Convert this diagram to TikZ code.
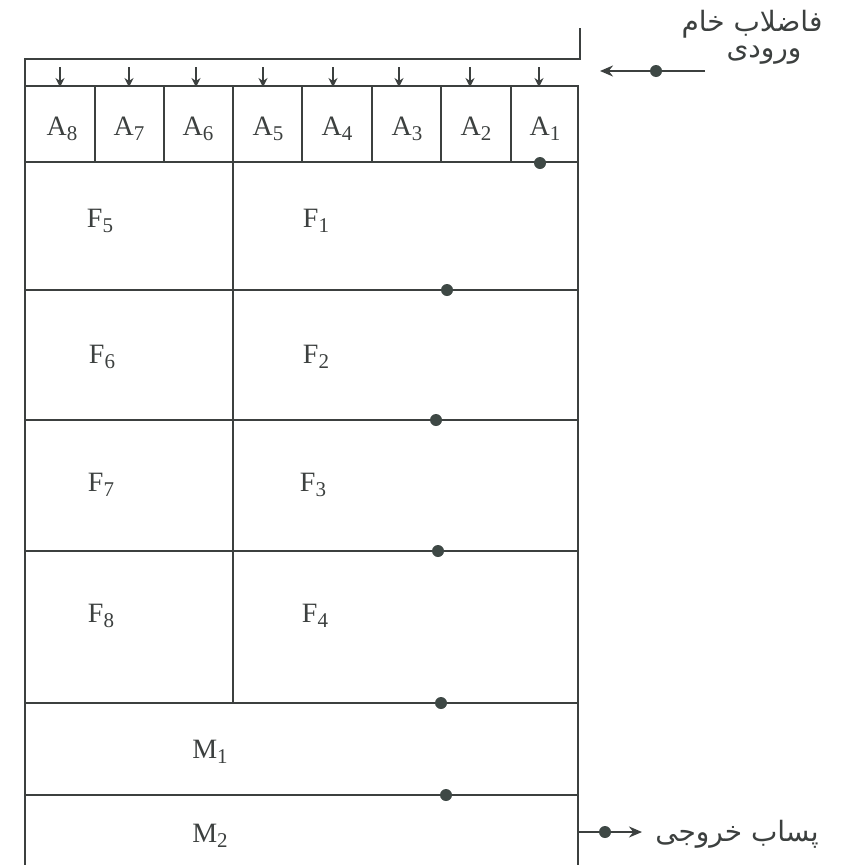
\documentclass[tikz,border=0pt]{standalone}
\usepackage{fontspec}
\setmainfont{Liberation Serif}
\newfontfamily\arabicfont[Script=Arabic]{DejaVu Sans}
\TeXXeTstate=1
\usetikzlibrary{arrows.meta}
\definecolor{ink}{HTML}{3C403F}
\definecolor{dotc}{HTML}{3E4845}
\newcommand\cellname[2]{#1\raisebox{-0.2em}{\fontsize{21}{24}\selectfont #2}}
\begin{document}
\begin{tikzpicture}[x=1pt,y=-1pt,
  wall/.style={draw=ink,line width=2.2pt},
  thin/.style={draw=ink,line width=1.6pt},
  dotmark/.style={circle,fill=dotc,inner sep=0pt,minimum size=12pt},
  lbl/.style={font=\fontsize{28}{32}\selectfont,text=ink,inner sep=0pt,anchor=base},
  fa/.style={font=\arabicfont\fontsize{28}{32}\selectfont,text=ink,inner sep=0pt},
  feed/.style={draw=ink,line width=1.5pt,-{Stealth[length=9pt,width=9pt]}},
  flow/.style={draw=ink,line width=2pt,-{Stealth[length=13pt,width=11pt]}}]
\useasboundingbox (0,0) rectangle (852,865);
% channel
\draw[wall] (25,865) -- (25,59) -- (580,59) -- (580,28);
% outer box
\draw[wall] (25,86) -- (578,86) -- (578,865);
% horizontal partitions
\foreach \y in {162,290,420,551,703,795} \draw[wall] (25,\y) -- (578,\y);
% A cell dividers
\foreach \x in {95,164,233,302,372,441,511} \draw[thin] (\x,86) -- (\x,162);
% F divider
\draw[thin] (233,162) -- (233,703);
% feed arrows
\foreach \x in {60,129,196,263,333,399,470,539} \draw[feed] (\x,67) -- (\x,87);
% labels A
\foreach \i/\x in {8/62,7/129,6/198,5/268,4/337,3/407,2/476,1/545}
  \node[lbl] (A\i) at (\x,135) {\cellname{A}{\i}};
\node[lbl] (F5) at (100,227) {\cellname{F}{5}};
\node[lbl] (F1) at (316,227) {\cellname{F}{1}};
\node[lbl] (F6) at (102,363) {\cellname{F}{6}};
\node[lbl] (F2) at (316,363) {\cellname{F}{2}};
\node[lbl] (F7) at (101,491) {\cellname{F}{7}};
\node[lbl] (F3) at (313,491) {\cellname{F}{3}};
\node[lbl] (F8) at (101,622) {\cellname{F}{8}};
\node[lbl] (F4) at (315,622) {\cellname{F}{4}};
\node[lbl] (M1) at (210,758) {\cellname{M}{1}};
\node[lbl] (M2) at (210,842) {\cellname{M}{2}};
% dots
\foreach \p in {(540,163),(447,290),(436,420),(438,551),(441,703),(446,795)}
  \node[dotmark] at \p {};
% inlet
\coordinate (inS) at (705,71);
\coordinate (inE) at (600,71);
\draw[flow] (inS) -- (inE);
\node[dotmark] (inD) at (656,71) {};
\node[fa] (inT1) at (752,24) {\beginR فاضلاب خام\endR};
\node[fa] (inT2) at (764,55) {\beginR ورودی\endR};
% outlet
\coordinate (outS) at (578,832);
\coordinate (outE) at (642,832);
\draw[flow] (outS) -- (outE);
\node[dotmark] (outD) at (605,832) {};
\node[fa] (outT) at (737,834) {\beginR پساب خروجی\endR};
\end{tikzpicture}
\end{document}
